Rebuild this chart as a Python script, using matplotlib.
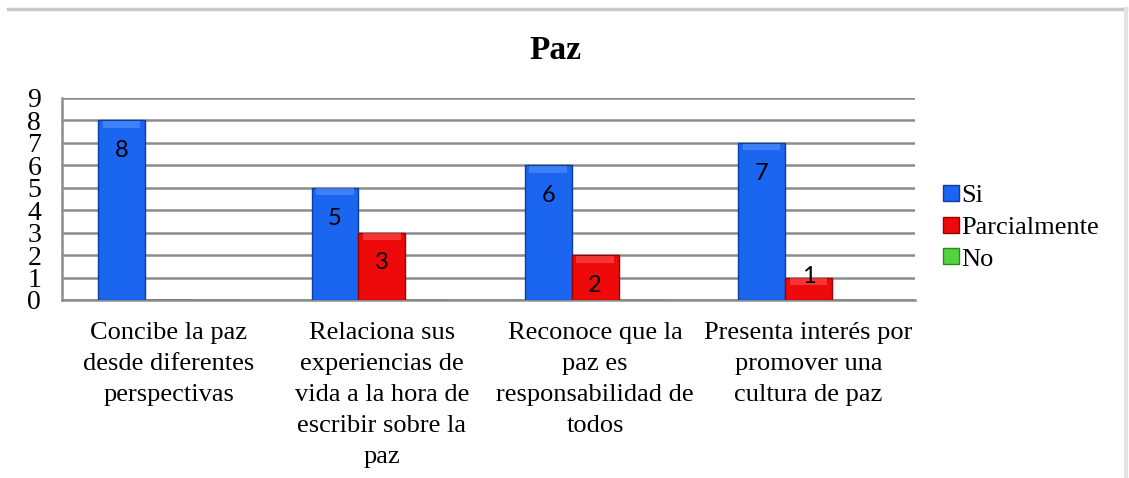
import numpy as np
import matplotlib
matplotlib.use("Agg")
import matplotlib.pyplot as plt
from matplotlib.lines import Line2D

# datos de la encuesta
categorias = ["Concibe la paz\ndesde diferentes\nperspectivas",
              "Relaciona sus\nexperiencias de\nvida a la hora de\nescribir sobre la\npaz",
              "Reconoce que la\npaz es\nresponsabilidad de\ntodos",
              "Presenta interés por\npromover una\ncultura de paz"]
si = [8, 5, 6, 7]
parcialmente = [0, 3, 2, 1]
no = [0, 0, 0, 0]

series = [("Si", si, "#1a66f0", "#0b3f9e", "#5d97ff"),
          ("Parcialmente", parcialmente, "#ee0a0a", "#9a0000", "#ff5a5a"),
          ("No", no, "#52d43f", "#2a8a1e", "#9af08a")]

fig = plt.figure(figsize=(11.29, 4.78), dpi=100)
ax = fig.add_axes([0.0549, 0.3724, 0.7556, 0.4226])

x = np.arange(len(categorias))
w = 0.22
for k, (nombre, vals, c, borde, luz) in enumerate(series):
    pos = x + (k - 1) * w
    vals = np.array(vals, dtype=float)
    ax.bar(pos, vals, w, color=c, edgecolor=borde, linewidth=1.0, zorder=3)
    # brillo superior del biselado
    h = np.minimum(0.3, vals)
    ax.bar(pos, h, w * 0.8, bottom=vals - h - 0.03, color=luz, linewidth=0, zorder=4, alpha=0.55)
    for p, v in zip(pos, vals):
        if v <= 0:
            continue
        y = v - 1.35 if v >= 2 else v + 0.05
        ax.text(p, y, f"{int(v)}", ha="center", va="center", fontsize=17,
                family="Lato", color="black", zorder=5)

ax.set_xlim(-0.5, len(categorias) - 0.5)
ax.set_ylim(0, 9)
ax.set_yticks(range(10))
ax.grid(axis="y", color="#8c8c8c", linewidth=1.8, zorder=0)
for s in ["top", "right"]:
    ax.spines[s].set_visible(False)
ax.spines["left"].set_color("#8c8c8c")
ax.spines["left"].set_linewidth(1.8)
ax.spines["bottom"].set_color("#8c8c8c")
ax.spines["bottom"].set_linewidth(1.8)
ax.tick_params(axis="both", length=0)
ax.tick_params(axis="y", pad=15)
ax.tick_params(axis="x", pad=16)
ax.set_yticklabels([str(i) for i in range(10)], family="Liberation Serif", fontsize=20)
ax.set_xticks(x)
ax.set_xticklabels(categorias, family="Liberation Serif", fontsize=19, linespacing=1.52)

fig.text(0.4916, 0.895, "Paz", ha="center", va="center", family="Liberation Serif",
         fontsize=24, fontweight="bold")

handles = [Line2D([], [], marker="s", linestyle="none", markersize=11,
                  markerfacecolor=c, markeredgecolor=borde) for _, _, c, borde, _ in series]
fig.legend(handles, [s[0] for s in series], loc="center left", bbox_to_anchor=(0.812, 0.525),
           frameon=False, prop={"family": "Liberation Serif", "size": 19},
           handletextpad=0.0, labelspacing=0.32, handlelength=0.8)

# marco sombreado del área del gráfico
fig.add_artist(Line2D([0.007, 0.997], [0.982, 0.982], color="#c8c8c8", linewidth=2.5,
                      transform=fig.transFigure))
fig.add_artist(Line2D([0.997, 0.997], [0.0, 0.982], color="#e2e2e2", linewidth=3,
                      transform=fig.transFigure))

fig.savefig("out.png", dpi=100)
